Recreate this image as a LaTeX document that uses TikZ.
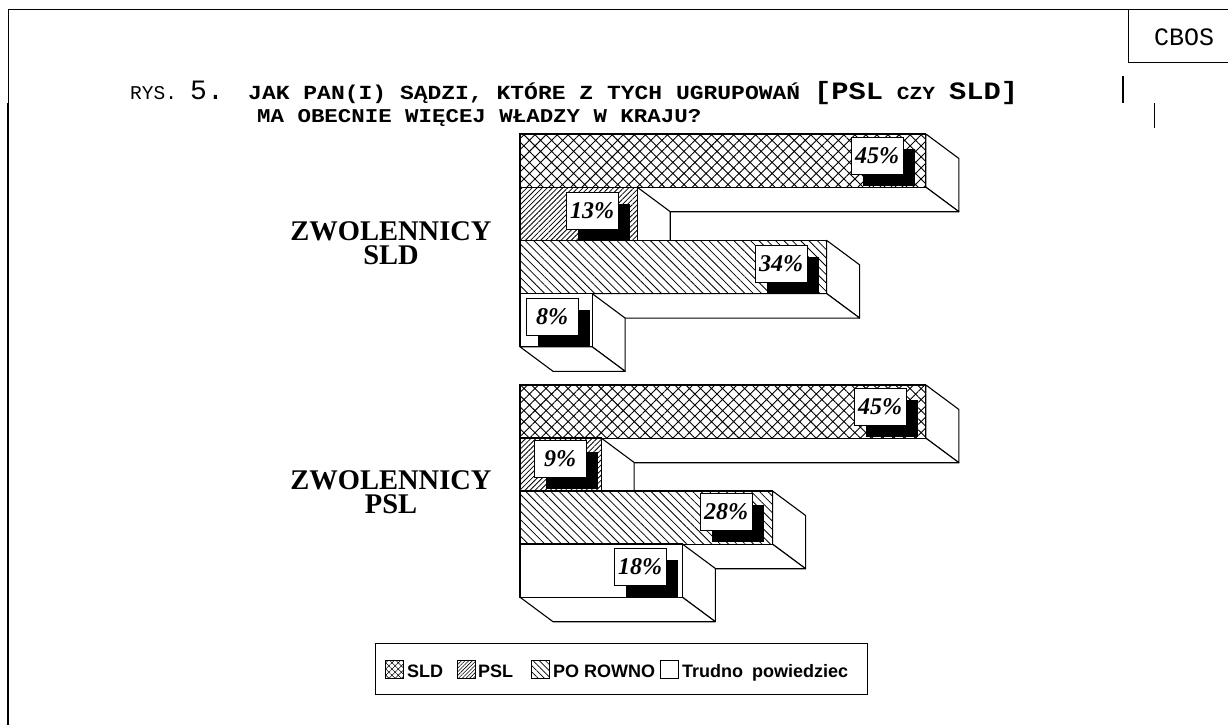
\documentclass[tikz,border=0pt]{standalone}
\usepackage{fontspec}
\usepackage{graphicx}
\setmainfont{Liberation Serif}
\newfontfamily\monof{Liberation Mono}
\newfontfamily\sansf{Liberation Sans}
\usetikzlibrary{patterns.meta}

\tikzset{
 face/.style={fill=white,draw=black,line width=1.1pt,line join=round},
 sldpat/.style={preaction={fill=white},pattern={Hatch[angle=45,distance=7.8pt,line width=0.9pt]}},
 pslpat/.style={preaction={fill=white},pattern={Lines[angle=45,distance=3.6pt,line width=0.8pt]}},
 rownopat/.style={preaction={fill=white},pattern={Lines[angle=-45,distance=5.9pt,line width=0.8pt]}},
 trudpat/.style={fill=white},
 sldsw/.style={preaction={fill=white},pattern={Hatch[angle=45,distance=4.4pt,line width=0.6pt]}},
 pslsw/.style={preaction={fill=white},pattern={Lines[angle=45,distance=2.6pt,line width=0.6pt]}},
 rownosw/.style={preaction={fill=white},pattern={Lines[angle=-45,distance=4.4pt,line width=0.6pt]}},
 valbox/.style={draw=black,fill=white,line width=0.8pt,minimum width=52pt,minimum height=37pt,inner sep=0pt,font=\fontsize{24}{24}\selectfont\bfseries\itshape},
 shadowbox/.style={fill=black,minimum width=52pt,minimum height=37pt,inner sep=0pt},
 grouplbl/.style={font=\fontsize{28.5}{24.5}\selectfont\bfseries,anchor=north,inner sep=0pt,align=center},
 legtext/.style={font=\sansf\fontsize{18}{18}\selectfont\bfseries,anchor=base west,inner sep=0pt},
 swatch/.style={draw=black,line width=0.8pt},
 titletext/.style={anchor=base west,inner sep=0pt},
}

\newcommand\drawbar[3]{%
  \pgfmathsetmacro\xe{520+9.02*#2}%
  \pgfmathsetmacro\yb{#1+53.2}%
  \filldraw[face] (\xe,#1) -- ++(33,24.5) -- ++(0,53.2) -- (\xe,\yb) -- cycle;
  \filldraw[face] (520,\yb) -- (\xe,\yb) -- ++(33,24.5) -- (553,\yb+24.5) -- cycle;
  \draw[#3,draw=black,line width=1.1pt] (520,#1) rectangle (\xe,\yb);
}
\newcommand\vallabel[4]{%
  \node[shadowbox] (#1s) at (#2+11.5,#3+11.5) {};
  \node[valbox] (#1) at (#2,#3) {#4};
}

\begin{document}
\begin{tikzpicture}[x=1pt,y=-1pt]
\useasboundingbox (0,0) rectangle (1228,725);
\fill[white] (0,0) rectangle (1228,725);

% frame
\draw[line width=0.8pt] (8,103) -- (8,9) -- (1228,9);
\draw[line width=2pt] (8,103) -- (8,725);
\draw[line width=0.8pt] (1128,9) -- (1128,62) -- (1228,62);
\node[font=\monof\fontsize{25}{25}\selectfont,inner sep=0pt] (cbos) at (1184,37.5) {CBOS};
\draw[line width=2pt] (1123,76) -- (1123,103);
\draw[line width=0.8pt] (1154,103) -- (1154,128);

% title
\node[titletext,font=\monof\fontsize{19.5}{20}\selectfont] (rys) at (130,99) {RYS.};
\node[titletext,font=\monof\fontsize{28}{28}\selectfont] (num) at (190,99) {5.};
\node[titletext,font=\monof\bfseries\fontsize{20}{20}\selectfont] (t1) at (248,99)
 {\scalebox{1.15}[1]{JAK PAN(I) SĄDZI, KTÓRE Z TYCH UGRUPOWAŃ {\fontsize{25}{25}\selectfont[PSL} {\fontsize{18.5}{18.5}\selectfont CZY} {\fontsize{25}{25}\selectfont SLD]}}};
\node[titletext,font=\monof\bfseries\fontsize{19.5}{20}\selectfont] (t2) at (257,122)
 {\scalebox{1.15}[1]{MA OBECNIE WIĘCEJ WŁADZY W KRAJU?}};

% group labels
\node[grouplbl] (g1) at (391,221) {ZWOLENNICY\\SLD};
\node[grouplbl] (g2) at (391,470) {ZWOLENNICY\\PSL};

% group 1 : zwolennicy SLD
\drawbar{134}{45}{sldpat}
\vallabel{a1}{877}{155.5}{45\%}
\drawbar{187.2}{13}{pslpat}
\vallabel{a2}{592}{211}{13\%}
\drawbar{240.4}{34}{rownopat}
\vallabel{a3}{781}{263.5}{34\%}
\drawbar{293.6}{8}{trudpat}
\vallabel{a4}{552}{316.5}{8\%}

% group 2 : zwolennicy PSL
\drawbar{385}{45}{sldpat}
\vallabel{b1}{880}{407}{45\%}
\drawbar{438}{9}{pslpat}
\vallabel{b2}{560}{459}{9\%}
\drawbar{491}{28}{rownopat}
\vallabel{b3}{726}{512}{28\%}
\drawbar{544}{18}{trudpat}
\vallabel{b4}{640}{566.5}{18\%}

% legend
\node[draw=black,line width=1pt,minimum width=492pt,minimum height=51pt,inner sep=0pt] (legend) at (621,668.5) {};
\draw[swatch,sldsw] (385,660) rectangle (403,678);
\node[legtext] (l1) at (407,677) {SLD};
\draw[swatch,pslsw] (457,660) rectangle (475,678);
\node[legtext] (l2) at (478,677) {PSL};
\draw[swatch,rownosw] (531,660) rectangle (549,678);
\node[legtext] (l3) at (553,677) {PO ROWNO};
\draw[swatch,fill=white] (660,660) rectangle (678,678);
\node[legtext] (l4) at (682,677) {Trudno\hspace{0.5em}powiedziec};
\end{tikzpicture}
\end{document}
